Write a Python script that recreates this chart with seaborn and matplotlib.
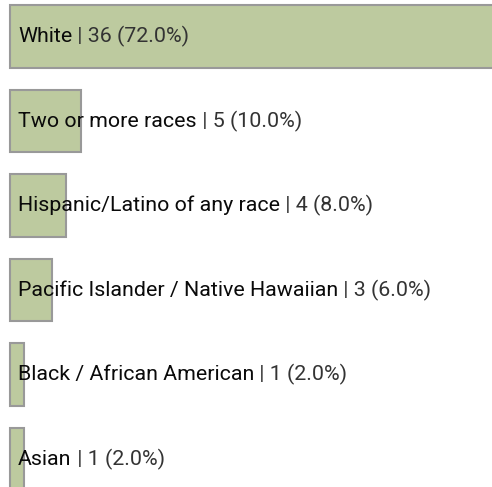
import pandas as pd
import seaborn as sns
import matplotlib.pyplot as plt

# Datos
categorias = ['White', 'Two or more races', 'Hispanic/Latino of any race',
              'Pacific Islander / Native Hawaiian', 'Black / African American', 'Asian']
conteos = [36, 5, 4, 3, 1, 1]
porcentajes = [72.0, 10.0, 8.0, 6.0, 2.0, 2.0]

df = pd.DataFrame({'categoria': categorias, 'conteo': conteos})

sns.set_style('white')
plt.rcParams['font.family'] = ['Roboto', 'DejaVu Sans']

fig = plt.figure(figsize=(4.92, 4.87), dpi=100)
ax = fig.add_axes([0, 0, 1, 1])

sns.barplot(data=df, x='conteo', y='categoria', orient='h', color='#bdca9f',
            saturation=1, width=0.745, edgecolor='#999999', linewidth=1.5, ax=ax)

ax.set_xlim(-0.71, 34.18)
ax.set_ylim(5.331, -0.432)
ax.axis('off')

# Etiquetas
for i, (cat, n, p) in enumerate(zip(categorias, conteos, porcentajes)):
    t1 = ax.annotate(cat, xy=(0, i), xytext=(8, 0), textcoords='offset pixels',
                     ha='left', va='center', fontsize=15.4, color='#0a0a0a')
    ax.annotate(f' | {n} ({p:.1f}%)', xy=(1, 0.5), xycoords=t1,
                ha='left', va='center', fontsize=15.4, color='#333333')

fig.savefig('out.png', dpi=100)
